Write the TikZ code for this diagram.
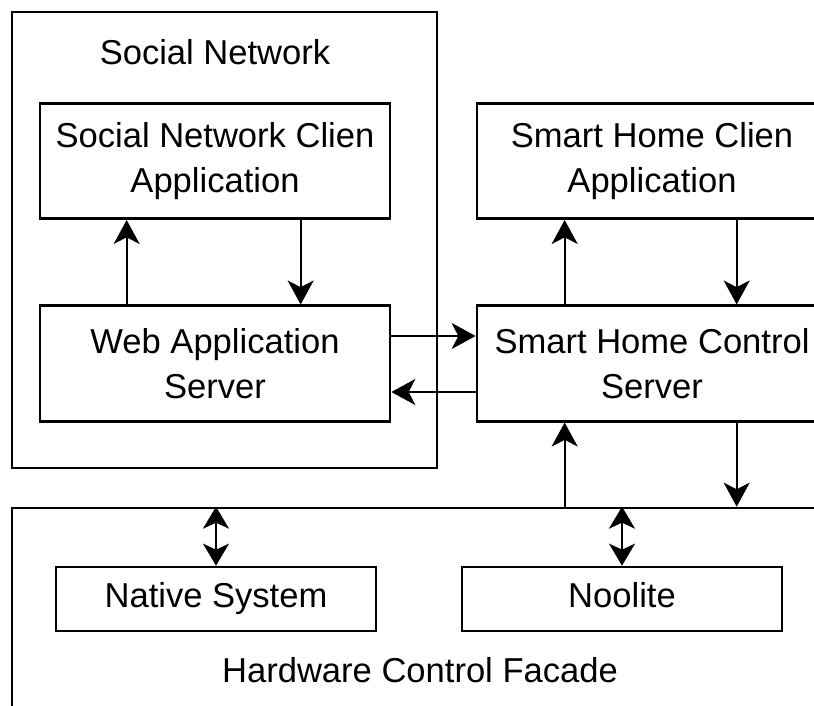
\documentclass[tikz,border=0pt]{standalone}
\usepackage{fontspec}
\setmainfont{Liberation Sans}
\usetikzlibrary{arrows.meta}

\tikzset{
    block/.style={draw=black, line width=0.08cm, inner sep=0pt,
        minimum width=10.5cm, minimum height=3.46cm, align=center,
        font=\fontsize{29.5}{38.4}\selectfont},
    smallblock/.style={block, minimum width=9.6cm, minimum height=1.92cm,
        text height=21.2pt, text depth=6.2pt},
    frame/.style={draw=black, line width=0.08cm, inner sep=0pt},
    caption/.style={font=\fontsize{29.5}{38.4}\selectfont},
    arr/.style={line width=0.06cm, -{Stealth[length=0.72cm, width=0.78cm, inset=0.2cm]}},
    dblarr/.style={line width=0.06cm, {Stealth[length=0.66cm, width=0.78cm, inset=0.18cm]}-{Stealth[length=0.66cm, width=0.78cm, inset=0.18cm]}}
}

\begin{document}
\begin{tikzpicture}[x=0.03cm, y=-0.03cm]
            \useasboundingbox (0,0) rectangle (814,706);
            \clip (0,0) rectangle (814,706);

            \node[frame, minimum width=12.75cm, minimum height=13.68cm] (social) at (224.5,240) {};
            \node[caption] (sociallabel) at (215,52) {Social Network};
            \node[frame, minimum width=24.54cm, minimum height=6.36cm] (hardware) at (421,614) {};
            \node[caption] (hardwarelabel) at (420,670) {Hardware Control Facade};

            \node[block] (snclient) at (215,161) {Social Network Clien\\Application};
            \node[block] (webserver) at (215,363.5) {Web Application\\Server};
            \node[block] (shclient) at (652,161) {Smart Home Clien\\Application};
            \node[block] (shserver) at (652,363.5) {Smart Home Control\\Server};
            \node[smallblock] (native) at (216,599) {Native System};
            \node[smallblock] (noolite) at (622,599) {Noolite};

            \draw[arr] ([xshift=2.64cm]webserver.north west) -- ([xshift=2.64cm]snclient.south west);
            \draw[arr] ([xshift=7.86cm]snclient.south west) -- ([xshift=7.86cm]webserver.north west);
            \draw[arr] ([yshift=0.825cm]webserver.east) -- ([yshift=0.825cm]shserver.west);
            \draw[arr] ([yshift=-0.855cm]shserver.west) -- ([yshift=-0.855cm]webserver.east);
            \draw[arr] ([xshift=2.67cm]shserver.north west) -- ([xshift=2.67cm]shclient.south west);
            \draw[arr] ([xshift=7.83cm]shclient.south west) -- ([xshift=7.83cm]shserver.north west);

            \coordinate (hwup) at ([xshift=2.67cm]shserver.south west);
            \coordinate (hwdown) at ([xshift=7.83cm]shserver.south west);
            \draw[arr] (hwup |- hardware.north) -- (hwup);
            \draw[arr] (hwdown) -- (hwdown |- hardware.north);

            \draw[dblarr] (native.north |- hardware.north) -- (native.north);
            \draw[dblarr] (noolite.north |- hardware.north) -- (noolite.north);
        \end{tikzpicture}
\end{document}
